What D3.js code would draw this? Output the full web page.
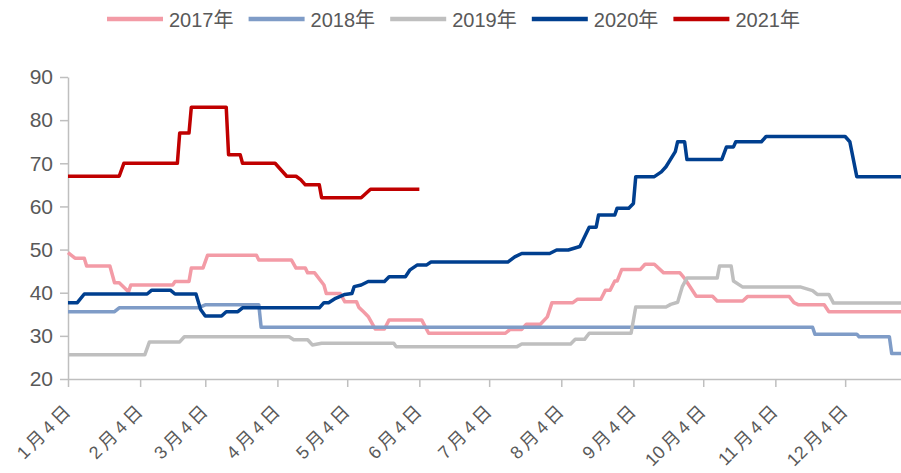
<!DOCTYPE html>
<html>
<head>
<meta charset="utf-8">
<script src="https://cdn.jsdelivr.net/npm/d3@7"></script>
<style>
  body { margin: 0; background: #fff; }
  text { font-family: "Liberation Sans", Arial, "Noto Sans CJK SC", sans-serif; }
</style>
</head>
<body>
<div id="infovis"></div>
<script>
var width = 901, height = 473;

// values, dates as month-day
var s2017 = [["01-04",49.3],["01-07",48],["01-11",48],["01-12",46.2],["01-22",46.2],["01-24",42.3],["01-26",42.3],
  ["01-30",40.2],["01-31",41.8],["02-18",41.8],["02-19",42.6],["02-25",42.6],["02-26",45.7],["03-03",45.7],
  ["03-05",48.7],["03-26",48.7],["03-27",47.6],["04-10",47.6],["04-12",45.7],["04-16",45.7],["04-17",44.6],
  ["04-20",44.6],["04-24",41.8],["04-25",39.8],["05-01",39.8],["05-03",37.9],["05-08",37.9],["05-09",36.6],
  ["05-11",35.6],["05-13",34.5],["05-16",31.6],["05-20",31.6],["05-22",33.7],["06-05",33.7],["06-08",30.6],
  ["07-11",30.6],["07-13",31.5],["07-18",31.5],["07-20",32.7],["07-26",32.7],["07-29",34.4],["07-31",37.7],
  ["08-09",37.7],["08-11",38.5],["08-21",38.5],["08-23",40.6],["08-25",40.6],["08-27",42.7],["08-28",42.7],
  ["08-30",45.4],["09-07",45.4],["09-09",46.6],["09-13",46.6],["09-17",44.6],["09-24",44.6],["09-26",43.3],
  ["10-01",39.2],["10-08",39.2],["10-10",38.1],["10-21",38.1],["10-23",39.1],["11-10",39.1],["11-12",37.7],
  ["11-14",37.2],["11-25",37.2],["11-27",35.6],["12-28",35.6]];
var s2018 = [["01-04",35.6],["01-24",35.6],["01-26",36.5],["03-01",36.5],["03-04",37.2],["03-27",37.2],
  ["03-28",32],["11-20",32],["11-21",30.4],["12-09",30.4],["12-10",29.8],["12-23",29.8],["12-24",25.9],["12-28",25.9]];
var s2019 = [["01-04",25.6],["02-06",25.6],["02-08",28.6],["02-21",28.6],["02-23",29.8],["04-09",29.8],
  ["04-11",29.1],["04-17",29.1],["04-19",27.9],["04-23",28.3],["05-24",28.3],["05-25",27.5],["07-16",27.5],
  ["07-18",28.1],["08-08",28.1],["08-10",29.2],["08-14",29.2],["08-16",30.6],["09-03",30.6],["09-05",36.7],
  ["09-18",36.7],["09-20",37.3],["09-23",37.8],["09-25",41.4],["09-27",43.4],["10-10",43.4],["10-11",46.2],
  ["10-16",46.2],["10-17",42.7],["10-21",41.3],["11-15",41.3],["11-20",40.5],["11-22",39.6],["11-27",39.6],
  ["11-29",37.6],["12-28",37.6]];
var s2020 = [["01-04",37.7],["01-08",37.7],["01-11",39.7],["02-07",39.7],["02-09",40.6],["02-17",40.6],
  ["02-19",39.7],["02-28",39.7],["03-02",36.1],["03-04",34.6],["03-11",34.6],["03-13",35.6],["03-18",35.6],
  ["03-20",36.5],["04-22",36.5],["04-24",37.7],["04-26",37.7],["04-29",38.7],["05-03",39.6],["05-06",39.8],
  ["05-07",41.4],["05-10",41.8],["05-13",42.6],["05-20",42.6],["05-22",43.7],["05-29",43.7],["05-31",45.3],
  ["06-03",46.4],["06-07",46.4],["06-09",47.1],["07-12",47.1],["07-15",48.3],["07-18",49.1],["07-30",49.1],
  ["08-02",49.9],["08-07",49.9],["08-12",50.7],["08-16",55.2],["08-19",55.2],["08-20",58],["08-27",58],
  ["08-28",59.6],["09-02",59.6],["09-04",60.7],["09-05",66.9],["09-13",66.9],["09-16",68],["09-18",69.2],
  ["09-22",72.7],["09-23",75],["09-26",75],["09-27",70.9],["10-12",70.9],["10-14",73.8],["10-17",73.8],
  ["10-18",75],["10-29",75],["10-31",76.2],["12-04",76.2],["12-06",75],["12-09",66.9],["12-28",66.9]];
var s2021 = [["01-04",67],["01-26",67],["01-28",70],["02-20",70],["02-21",77],["02-25",77],["02-26",83],
  ["03-13",83],["03-14",72],["03-19",72],["03-20",70],["04-03",70],["04-08",67],["04-12",67],["04-14",66.2],
  ["04-16",65],["04-22",65],["04-23",62],["05-10",62],["05-14",64],["06-04",64]];

var seriesNames = ["2017年", "2018年", "2019年", "2020年", "2021年"];
var seriesColors = ["#f39ba6", "#7f9cc7", "#bfbfbf", "#003f8f", "#c00000"];
var allSeries = [s2017, s2018, s2019, s2020, s2021];
var yTicks = [20, 30, 40, 50, 60, 70, 80, 90];
var xTicks = ["01-04","02-04","03-04","04-04","05-04","06-04","07-04","08-04","09-04","10-04","11-04","12-04"];

var parse = function(s){ return d3.timeParse("%Y-%m-%d")("2021-" + s); };

svg = d3.select("#infovis").append("svg")
    .attr("width", width)
    .attr("height", height);

var x = d3.scaleTime()
    .domain([parse("01-04"), parse("12-28")])
    .range([68, 901]);

var y = d3.scaleLinear()
    .domain([20, 90])
    .range([379, 77]);

var yAxis = svg.append("g")
    .attr("transform", "translate(68,0)")
    .call(d3.axisLeft(y).tickValues(yTicks).tickSize(8).tickSizeOuter(0).tickPadding(7));

var xAxis = svg.append("g")
    .attr("transform", "translate(0,379)")
    .call(d3.axisBottom(x).tickValues(xTicks.map(parse)).tickSize(8).tickSizeOuter(0)
        .tickFormat(function(d){ return (d.getMonth() + 1) + "月" + d.getDate() + "日"; }));

svg.selectAll(".domain, .tick line")
    .attr("stroke", "#bfbfbf")
    .attr("stroke-width", 1.5);

yAxis.selectAll("text")
    .attr("fill", "#595959")
    .style("font-size", "21px");

// spread only round the CJK characters, digits stay tight
xAxis.selectAll("text")
    .attr("fill", "#595959")
    .style("font-size", "18px")
    .attr("text-anchor", "end")
    .attr("x", 0).attr("y", 0).attr("dy", 0)
    .attr("transform", "translate(3,34) rotate(-45)")
    .text(function(d){ return (d.getMonth() + 1) + "\u2009月\u2009" + d.getDate() + "\u2009日"; });

var line = d3.line()
    .x(function(d){ return x(parse(d[0])); })
    .y(function(d){ return y(d[1]); });

allSeries.forEach(function(s, i){
    svg.append("path")
        .datum(s)
        .attr("d", line)
        .attr("fill", "none")
        .attr("stroke", seriesColors[i])
        .attr("stroke-width", 3.5)
        .attr("stroke-linejoin", "round");
});

var legend = svg.append("g");
seriesNames.forEach(function(name, i){
    var x0 = 107 + i * 141.6;
    legend.append("line")
        .attr("x1", x0).attr("x2", x0 + 56)
        .attr("y1", 19).attr("y2", 19)
        .attr("stroke", seriesColors[i])
        .attr("stroke-width", 4.5);
    legend.append("text")
        .attr("x", x0 + 62)
        .attr("y", 27)
        .attr("fill", "#595959")
        .style("font-size", "20px")
        .text(name);
});
</script>
</body>
</html>
